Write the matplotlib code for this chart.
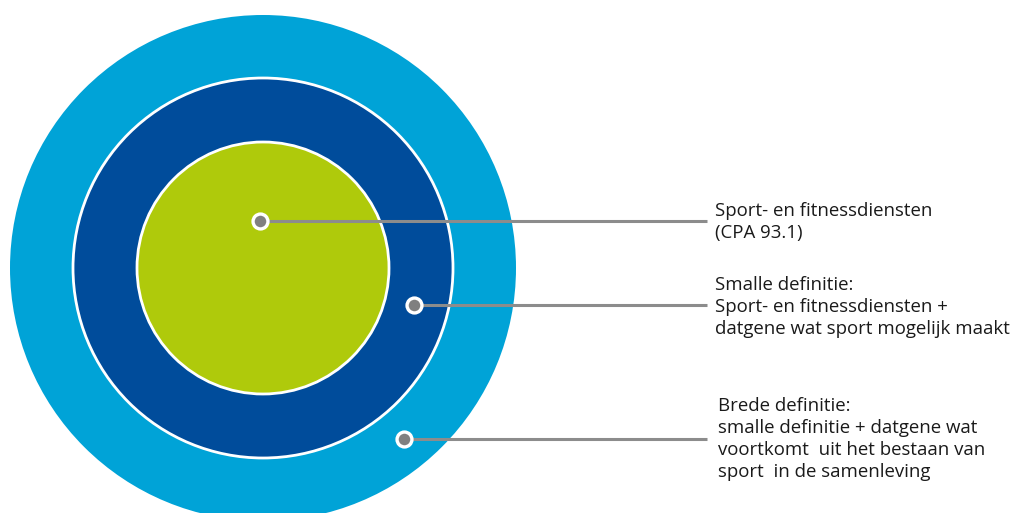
import matplotlib
matplotlib.use("Agg")
import matplotlib.pyplot as plt
from matplotlib.patches import Circle

# Data
labels = [
    "Sport- en fitnessdiensten\n(CPA 93.1)",
    "Smalle definitie:\nSport- en fitnessdiensten +\ndatgene wat sport mogelijk maakt",
    "Brede definitie:\nsmalle definitie + datgene wat\nvoortkomt  uit het bestaan van\nsport  in de samenleving",
]
radii = [126, 190, 253]           # inner, middle, outer ring radius (px)
colors = ["#AFCA0B", "#004C9B", "#00A3D7"]
dot_x = [260, 414, 404]
dot_y = [221, 305, 439]
text_y = [222, 307, 439]
text_x = [715, 715, 718]

W, H = 1011, 513
fig = plt.figure(figsize=(W / 100, H / 100), dpi=100)
ax = fig.add_axes([0, 0, 1, 1])
ax.set_xlim(0, W)
ax.set_ylim(H, 0)
ax.set_aspect("equal")
ax.axis("off")

cx, cy = 263, 268
for r, c, z in zip(radii[::-1], colors[::-1], [1, 2, 3]):
    ec = "none" if z == 1 else "white"
    ax.add_patch(Circle((cx, cy), r, facecolor=c, edgecolor=ec, lw=2, zorder=z))

line_end = 707
for x, y, tx, ty, lab in zip(dot_x, dot_y, text_x, text_y, labels):
    ax.plot([x, line_end], [y, y], color="#8C8C8C", lw=2.2, zorder=5, solid_capstyle="butt")
    ax.scatter([x], [y], s=115, color="#808080", edgecolor="white", linewidth=2.4, zorder=6)
    ax.text(tx, ty, lab, fontsize=13.4, family="Open Sans", color="#1a1a1a",
            va="center", ha="left", linespacing=1.3, zorder=7)

fig.savefig("out.png", dpi=100)
